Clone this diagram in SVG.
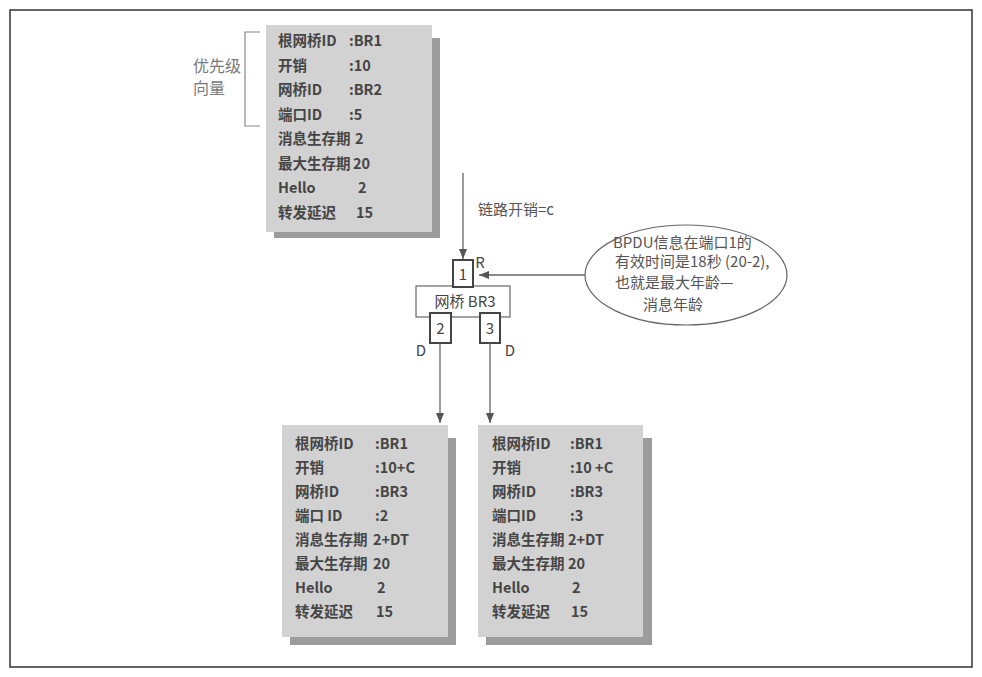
<svg xmlns="http://www.w3.org/2000/svg" width="982" height="677" viewBox="0 0 982 677">
<defs>
<style>
.bg{fill:#ffffff}
.frame{fill:none;stroke:#333;stroke-width:1.5}
.card{fill:#d2d2d2}
.shadow{fill:#9c9c9c}
.bt{font-family:"Noto Sans CJK SC","Liberation Sans",sans-serif;font-size:14.5px;font-weight:700;fill:#454545}
.lt{font-family:"Noto Sans CJK SC","Liberation Sans",sans-serif;font-size:15px;fill:#555}
.gt{font-family:"Noto Sans CJK SC","Liberation Sans",sans-serif;font-size:16px;fill:#7a7a7a}
.port{fill:#fff;stroke:#444;stroke-width:2}
.bridge{fill:#fff;stroke:#666;stroke-width:1.2}
.pt{font-family:"Noto Sans CJK SC","Liberation Sans",sans-serif;font-size:15px;fill:#444;text-anchor:middle}
.conn{fill:none;stroke:#666;stroke-width:1.3}
.brk{fill:none;stroke:#888;stroke-width:1.2}
.ell{fill:#fff;stroke:#666;stroke-width:1.2}
</style>
<marker id="ah" markerUnits="userSpaceOnUse" viewBox="0 0 10 8" markerWidth="10" markerHeight="8" refX="10" refY="4" orient="auto">
<path d="M0,0 L10,4 L0,8 z" fill="#555"/>
</marker>
</defs>
<rect class="bg" x="0" y="0" width="982" height="677"/>
<rect class="frame" x="10" y="10" width="962" height="657"/>

<g id="bracket">
<path class="brk" d="M260,32 H245 V126 H260"/>
<text class="gt" x="193" y="72">优先级</text>
<text class="gt" x="193" y="94">向量</text>
</g>

<g id="bpdu-top">
<rect class="shadow" x="274" y="38" width="166" height="200"/>
<rect class="card" x="266" y="25" width="166" height="207"/>
<text class="bt" x="278" y="46">根网桥ID</text><text class="bt" x="349" y="46">:BR1</text>
<text class="bt" x="278" y="70.5">开销</text><text class="bt" x="349" y="70.5">:10</text>
<text class="bt" x="278" y="95">网桥ID</text><text class="bt" x="349" y="95">:BR2</text>
<text class="bt" x="278" y="119.5">端口ID</text><text class="bt" x="349" y="119.5">:5</text>
<text class="bt" x="278" y="144">消息生存期</text><text class="bt" x="355" y="144">2</text>
<text class="bt" x="278" y="168.5">最大生存期</text><text class="bt" x="353" y="168.5">20</text>
<text class="bt" x="278" y="193">Hello</text><text class="bt" x="358" y="193">2</text>
<text class="bt" x="278" y="217.5">转发延迟</text><text class="bt" x="356" y="217.5">15</text>
</g>

<g id="bpdu-port2">
<rect class="shadow" x="290" y="438" width="166" height="207"/>
<rect class="card" x="282" y="425" width="166" height="212"/>
<text class="bt" x="295" y="449">根网桥ID</text><text class="bt" x="375" y="449">:BR1</text>
<text class="bt" x="295" y="473">开销</text><text class="bt" x="375" y="473">:10+C</text>
<text class="bt" x="295" y="497">网桥ID</text><text class="bt" x="375" y="497">:BR3</text>
<text class="bt" x="295" y="521">端口 ID</text><text class="bt" x="375" y="521">:2</text>
<text class="bt" x="295" y="545">消息生存期</text><text class="bt" x="373" y="545">2+DT</text>
<text class="bt" x="295" y="569">最大生存期</text><text class="bt" x="373" y="569">20</text>
<text class="bt" x="295" y="593">Hello</text><text class="bt" x="377" y="593">2</text>
<text class="bt" x="295" y="617">转发延迟</text><text class="bt" x="376" y="617">15</text>
</g>

<g id="bpdu-port3">
<rect class="shadow" x="486" y="438" width="166" height="207"/>
<rect class="card" x="478" y="425" width="165" height="212"/>
<text class="bt" x="492" y="449">根网桥ID</text><text class="bt" x="570" y="449">:BR1</text>
<text class="bt" x="492" y="473">开销</text><text class="bt" x="570" y="473">:10 +C</text>
<text class="bt" x="492" y="497">网桥ID</text><text class="bt" x="570" y="497">:BR3</text>
<text class="bt" x="492" y="521">端口ID</text><text class="bt" x="570" y="521">:3</text>
<text class="bt" x="492" y="545">消息生存期</text><text class="bt" x="568" y="545">2+DT</text>
<text class="bt" x="492" y="569">最大生存期</text><text class="bt" x="568" y="569">20</text>
<text class="bt" x="492" y="593">Hello</text><text class="bt" x="572" y="593">2</text>
<text class="bt" x="492" y="617">转发延迟</text><text class="bt" x="571" y="617">15</text>
</g>

<g id="bridge-br3">
<rect class="bridge" x="416" y="286" width="94" height="31"/>
<text class="pt" x="465" y="307" font-size="16">网桥  BR3</text>
</g>
<g id="port1">
<rect class="port" x="453" y="260" width="20" height="27"/>
<text class="pt" x="463" y="280">1</text>
<text class="pt" x="480" y="268">R</text>
</g>
<g id="port2">
<rect class="port" x="430" y="313" width="21" height="30"/>
<text class="pt" x="440.5" y="334">2</text>
<text class="pt" x="421" y="356">D</text>
</g>
<g id="port3">
<rect class="port" x="480" y="313" width="20" height="30"/>
<text class="pt" x="490" y="334">3</text>
<text class="pt" x="510" y="356">D</text>
</g>

<g id="note">
<ellipse class="ell" cx="686" cy="275" rx="101" ry="50"/>
<text class="lt" x="613" y="248" font-size="14.5">BPDU信息在端口1的</text>
<text class="lt" x="615" y="267" font-size="14.5">有效时间是18秒 (20-2),</text>
<text class="lt" x="615" y="288" font-size="14.5">也就是最大年龄—</text>
<text class="lt" x="643" y="310" font-size="14.5">消息年龄</text>
</g>

<g id="connectors">
<line class="conn" x1="463" y1="173" x2="463" y2="259" marker-end="url(#ah)"/>
<text class="lt" x="478" y="215">链路开销=c</text>
<line class="conn" x1="585" y1="275" x2="479" y2="275" marker-end="url(#ah)"/>
<line class="conn" x1="440" y1="343" x2="440" y2="423" marker-end="url(#ah)"/>
<line class="conn" x1="490" y1="343" x2="490" y2="423" marker-end="url(#ah)"/>
</g>
</svg>
